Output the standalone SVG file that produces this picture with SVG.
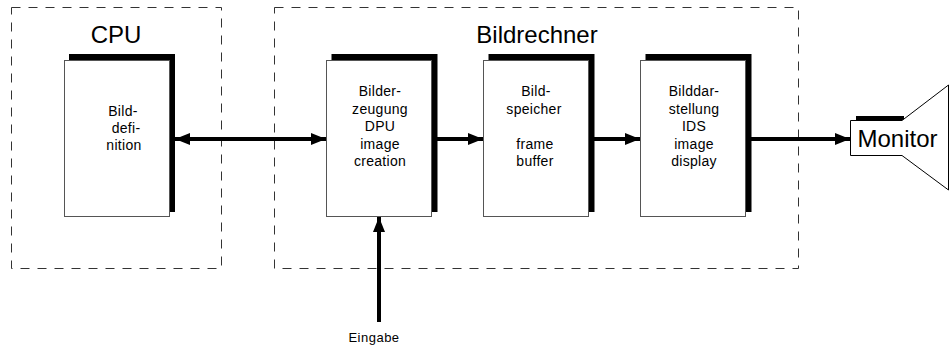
<svg xmlns="http://www.w3.org/2000/svg" width="950" height="349" viewBox="0 0 950 349">
  <defs>
    <style>
      .frame { fill: none; stroke: #333; stroke-width: 1; stroke-dasharray: 9 8; }
      .shadow { fill: #000; }
      .card { fill: #fff; stroke: #555; stroke-width: 1; }
      .title { font-family: "Liberation Sans", Arial, sans-serif; font-size: 24px; fill: #000; text-anchor: middle; }
      .label { font-family: "Liberation Sans", Arial, sans-serif; font-size: 14px; letter-spacing: 0.3px; fill: #000; text-anchor: middle; }
      .wire { stroke: #000; stroke-width: 4; fill: none; }
      .thin { fill: #fff; stroke: #000; stroke-width: 1; }
    </style>
    <marker id="head" viewBox="0 0 15 12" refX="15" refY="6" markerWidth="15" markerHeight="12" markerUnits="userSpaceOnUse" orient="auto-start-reverse">
      <path d="M0,0 L15,6 L0,12 Z" fill="#000"/>
    </marker>
  </defs>

  <!-- system boundaries -->
  <g id="cpu-frame">
    <rect class="frame" x="11.5" y="7.5" width="210" height="261"/>
    <text class="title" x="116" y="43">CPU</text>
  </g>
  <g id="bildrechner-frame">
    <rect class="frame" x="274.5" y="7.5" width="524" height="261"/>
    <text class="title" x="537" y="43">Bildrechner</text>
  </g>

  <!-- blocks -->
  <g id="bilddefinition">
    <rect class="shadow" x="69" y="54" width="106" height="158"/>
    <rect class="card" x="64.5" y="60.5" width="105" height="156"/>
    <text class="label" x="123" y="116">Bild-</text>
    <text class="label" x="126" y="133">defi-</text>
    <text class="label" x="124" y="150">nition</text>
  </g>

  <g id="bilderzeugung">
    <rect class="shadow" x="331.5" y="54" width="106" height="158"/>
    <rect class="card" x="326.5" y="60.5" width="105" height="156"/>
    <text class="label" x="380" y="96">Bilder-</text>
    <text class="label" x="380" y="113.5">zeugung</text>
    <text class="label" x="380" y="131">DPU</text>
    <text class="label" x="380" y="148.5">image</text>
    <text class="label" x="380" y="166">creation</text>
  </g>

  <g id="bildspeicher">
    <rect class="shadow" x="488.5" y="54" width="106" height="158"/>
    <rect class="card" x="483.5" y="60.5" width="105" height="156"/>
    <text class="label" x="536" y="96">Bild-</text>
    <text class="label" x="534" y="113.5">speicher</text>
    <text class="label" x="535" y="148.5">frame</text>
    <text class="label" x="535" y="166">buffer</text>
  </g>

  <g id="bilddarstellung">
    <rect class="shadow" x="645.5" y="54" width="106" height="158"/>
    <rect class="card" x="640.5" y="60.5" width="105" height="156"/>
    <text class="label" x="694" y="96">Bilddar-</text>
    <text class="label" x="694" y="113.5">stellung</text>
    <text class="label" x="694" y="131">IDS</text>
    <text class="label" x="694" y="148.5">image</text>
    <text class="label" x="694" y="166">display</text>
  </g>

  <g id="monitor">
    <rect class="shadow" x="856" y="116" width="48" height="4"/>
    <polygon class="thin" points="850.5,120.5 902,120.5 948.5,85 948.5,190 902,155.5 850.5,155.5"/>
    <text class="title" x="897.5" y="147">Monitor</text>
  </g>

  <g id="eingabe">
    <text class="label" x="374" y="341.5" style="font-size:13px;letter-spacing:0.5px">Eingabe</text>
  </g>

  <!-- connectors -->
  <g id="connectors">
    <line class="wire" x1="175" y1="139" x2="326" y2="139" marker-start="url(#head)" marker-end="url(#head)"/>
    <line class="wire" x1="437" y1="139" x2="483" y2="139" marker-end="url(#head)"/>
    <line class="wire" x1="594" y1="139" x2="640" y2="139" marker-end="url(#head)"/>
    <line class="wire" x1="751" y1="139" x2="850" y2="139" marker-end="url(#head)"/>
    <line class="wire" x1="379" y1="322" x2="379" y2="217" marker-end="url(#head)"/>
  </g>
</svg>
